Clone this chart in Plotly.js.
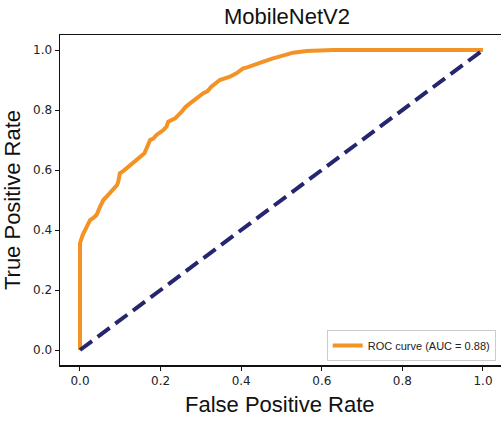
<!DOCTYPE html>
<html>
<head>
<meta charset="utf-8">
<script src="https://cdn.plot.ly/plotly-3.0.1.min.js"></script>
<style>html,body{margin:0;padding:0;overflow:hidden;background:#fff;}</style>
</head>
<body>
<div id="chart" style="width:501px;height:424px;"></div>
<script>
const chartTitle = "MobileNetV2";
const xLabel = "False Positive Rate";
const yLabel = "True Positive Rate";
const rocName = "ROC curve (AUC = 0.88)";
const fpr = [0, 0, 0.0066, 0.012, 0.018, 0.025, 0.033, 0.041, 0.05, 0.058, 0.07, 0.083, 0.092, 0.095, 0.099, 0.108, 0.116, 0.132, 0.149, 0.16, 0.165, 0.174, 0.182, 0.19, 0.207, 0.215, 0.219, 0.236, 0.252, 0.262, 0.273, 0.289, 0.306, 0.316, 0.326, 0.347, 0.36, 0.372, 0.388, 0.405, 0.415, 0.43, 0.455, 0.479, 0.504, 0.529, 0.562, 0.595, 0.628, 1.0];
const tpr = [0, 0.356, 0.383, 0.398, 0.411, 0.433, 0.44, 0.45, 0.478, 0.5, 0.517, 0.539, 0.55, 0.561, 0.589, 0.597, 0.606, 0.622, 0.644, 0.656, 0.672, 0.7, 0.705, 0.717, 0.733, 0.745, 0.761, 0.772, 0.794, 0.81, 0.822, 0.839, 0.856, 0.862, 0.878, 0.9, 0.905, 0.911, 0.922, 0.939, 0.942, 0.95, 0.961, 0.972, 0.983, 0.991, 0.997, 0.999, 1.0, 1.0];
const diagX = [0, 1];
const diagY = [0, 1];
const tickVals = [0, 0.2, 0.4, 0.6, 0.8, 1.0];
const tickText = ["0.0", "0.2", "0.4", "0.6", "0.8", "1.0"];

const traces = [
  {x: fpr, y: tpr, type: 'scatter', mode: 'lines', name: rocName,
   line: {color: '#f39325', width: 4}},
  {x: diagX, y: diagY, type: 'scatter', mode: 'lines', showlegend: false,
   line: {color: '#26266f', width: 4, dash: '15px,7px'}}
];

const axisCommon = {
  showgrid: false, zeroline: false, showline: true, linecolor: '#111', linewidth: 1.5,
  ticks: 'outside', ticklen: 4, tickwidth: 1, tickcolor: '#111',
  tickvals: tickVals, ticktext: tickText,
  tickfont: {family: 'DejaVu Sans', size: 12, color: '#222'}
};

const layout = {
  width: 501, height: 424,
  margin: {l: 60, r: 0, t: 35, b: 59},
  paper_bgcolor: '#fff', plot_bgcolor: '#fff',
  title: {text: chartTitle, x: 287/501, xanchor: 'center', y: 1 - 16/424, yanchor: 'middle',
          font: {family: 'Liberation Sans', size: 22, color: '#111'}},
  xaxis: Object.assign({}, axisCommon, {range: [-0.0496, 1.0447], mirror: true}),
  yaxis: Object.assign({}, axisCommon, {range: [-0.05, 1.05],
    title: {text: yLabel, font: {family: 'Liberation Sans', size: 22, color: '#111'}, standoff: 8}}),
  annotations: [{text: xLabel, xref: 'paper', yref: 'paper', x: 0.498, y: -0.1212,
    xanchor: 'center', yanchor: 'middle', showarrow: false,
    font: {family: 'Liberation Sans', size: 22, color: '#111'}}],
  showlegend: true,
  legend: {x: 0.988, xanchor: 'right', y: 0.012, yanchor: 'bottom',
    bgcolor: '#fff', bordercolor: '#ccc', borderwidth: 1,
    font: {family: 'Liberation Sans', size: 11, color: '#222'},
    itemwidth: 30}
};

Plotly.newPlot('chart', traces, layout, {displayModeBar: false, staticPlot: true});
</script>
</body>
</html>
